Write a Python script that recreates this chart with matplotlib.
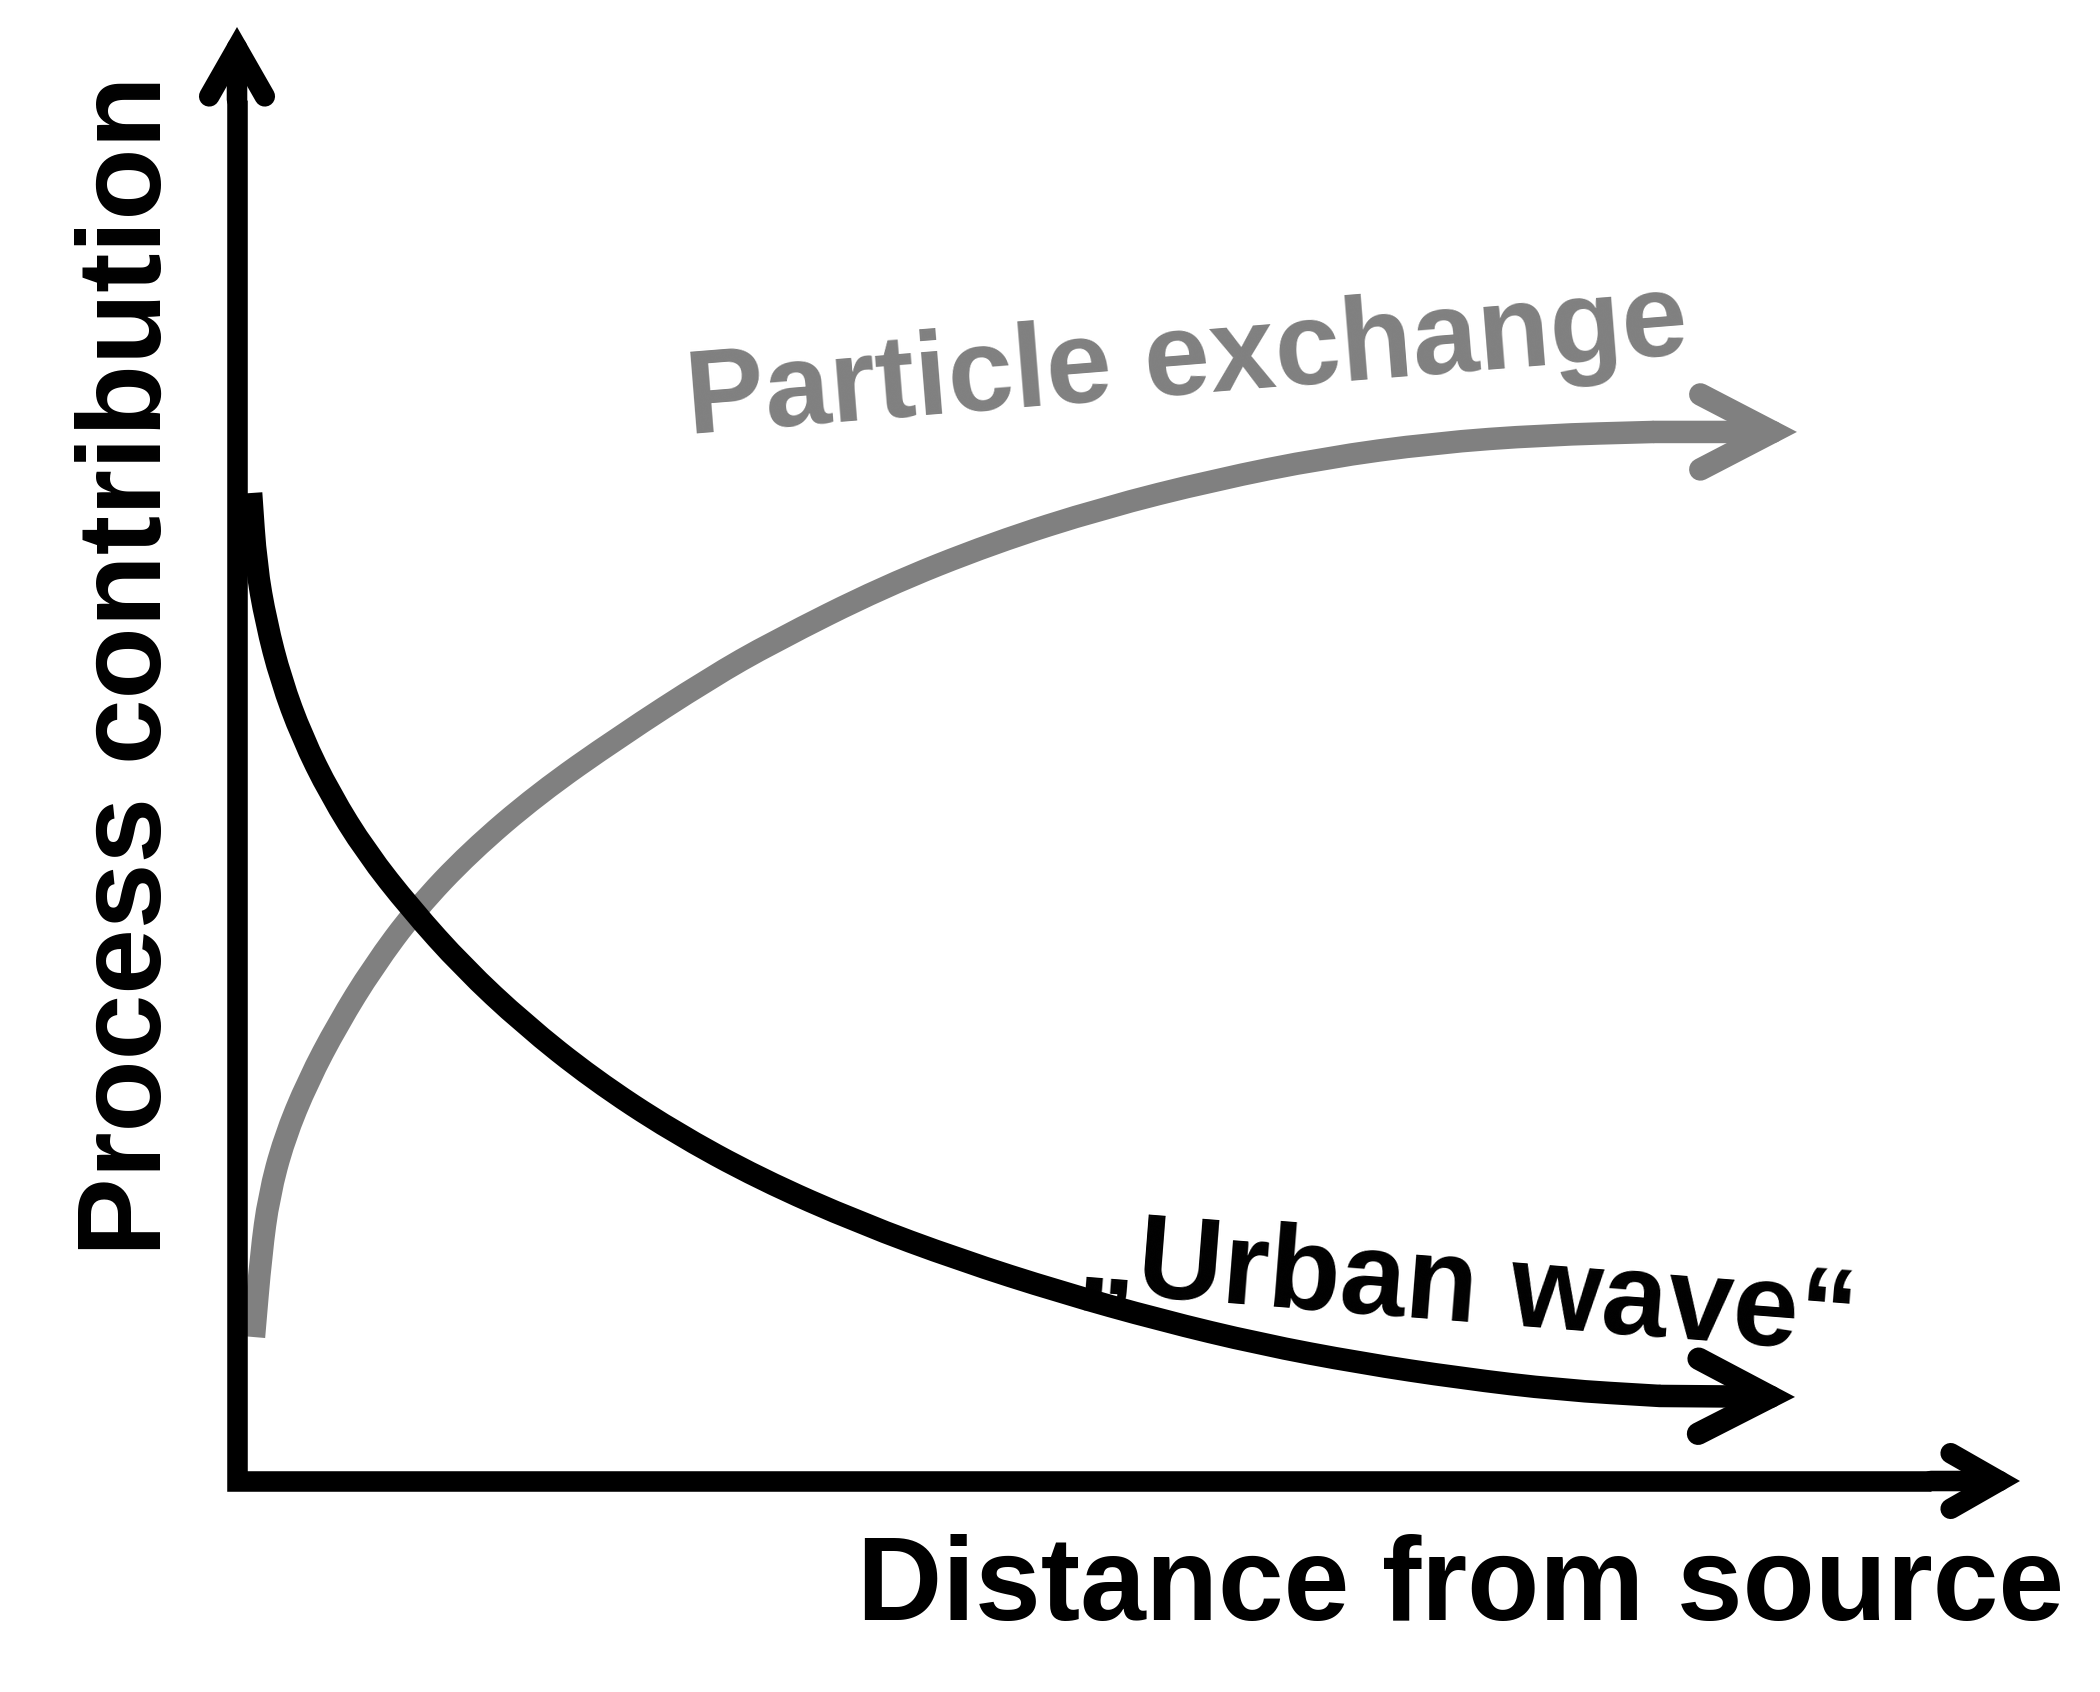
import matplotlib
matplotlib.use("Agg")
import matplotlib.pyplot as plt
from matplotlib.patches import ArrowStyle, PathPatch
from matplotlib.path import Path

plt.rcParams['font.family'] = ['Liberation Sans', 'DejaVu Sans']

# ---- data (conceptual curves; axes run 0..100) ----
distance_urban = [0.79, 1.07, 1.63, 2.47, 3.65, 5.22, 7.24, 9.76, 12.68, 16.10,
                  19.97, 24.40, 29.33, 34.94, 40.55, 46.16, 51.77, 57.37, 62.98,
                  68.59, 74.20, 79.81, 87.38]
urban_wave = [67.95, 63.00, 59.08, 55.09, 51.17, 47.25, 43.26, 39.34, 35.35, 31.43,
              27.65, 24.07, 20.77, 17.74, 15.20, 13.00, 11.07, 9.42, 8.12,
              7.08, 6.26, 5.85, 5.78]

distance_particle = [0.95, 1.35, 1.79, 2.64, 3.98, 5.66, 7.63, 10.04, 13.07, 16.88,
                     21.42, 26.53, 30.06, 36.23, 42.40, 48.57, 54.80, 60.97, 67.14,
                     73.31, 79.47, 87.49]
particle_exchange = [9.90, 15.61, 19.60, 23.52, 27.51, 31.43, 35.35, 39.34, 43.26, 47.25,
                     51.17, 55.23, 57.70, 61.49, 64.51, 66.92, 68.84, 70.36, 71.39,
                     71.94, 72.15, 72.15]

x_label = "Distance from source"
y_label = "Process contribution"
label_particle = "Particle exchange"
label_urban = "\u201eUrban wave\u201c"

BLACK = "#000000"
GRAY = "#808080"

fig = plt.figure(figsize=(21, 16.92), dpi=100)
fig.patch.set_facecolor("white")
ax = fig.add_axes([0.11286, 0.12470, 0.84905, 0.85934])
ax.set_xlim(0, 100)
ax.set_ylim(0, 100)
ax.axis("off")


def arrow_head(x0, y0, x1, y1, color, lw, hl, hw):
    ax.annotate("", xy=(x1, y1), xytext=(x0, y0), xycoords="data",
                annotation_clip=False,
                arrowprops=dict(arrowstyle=ArrowStyle("->", head_length=hl, head_width=hw),
                                mutation_scale=1, lw=lw, color=color,
                                shrinkA=0, shrinkB=0, capstyle="round",
                                joinstyle="miter"))


def smooth_curve(xs, ys, color, lw):
    """Stroke the read points as a smooth path (quadratic Beziers through midpoints)."""
    pts = list(zip(xs, ys))
    verts = [pts[0]]
    codes = [Path.MOVETO]
    mid = lambda a, b: ((a[0] + b[0]) / 2, (a[1] + b[1]) / 2)
    verts.append(mid(pts[0], pts[1]))
    codes.append(Path.LINETO)
    for i in range(1, len(pts) - 1):
        verts += [pts[i], mid(pts[i], pts[i + 1])]
        codes += [Path.CURVE3, Path.CURVE3]
    verts.append(pts[-1])
    codes.append(Path.LINETO)
    patch = PathPatch(Path(verts, codes), facecolor="none", edgecolor=color, lw=lw,
                      capstyle="butt", joinstyle="round", clip_on=False)
    ax.add_patch(patch)


# axes (L shape) with open arrow heads
axis_lw = 14.8
ax.plot([0, 0, 95], [95, 0, 0], color=BLACK, lw=axis_lw,
        solid_joinstyle="miter", solid_capstyle="butt", clip_on=False)
arrow_head(0, 95, 0, 100, BLACK, axis_lw, 35, 20)
arrow_head(95, 0, 100, 0, BLACK, axis_lw, 35, 20)

# curves
curve_lw = 16.2
smooth_curve(distance_particle[:-1], particle_exchange[:-1], GRAY, curve_lw)
arrow_head(distance_particle[-2], particle_exchange[-2],
           distance_particle[-1], particle_exchange[-1], GRAY, curve_lw, 52, 27)

smooth_curve(distance_urban[:-1], urban_wave[:-1], BLACK, curve_lw)
arrow_head(distance_urban[-2], urban_wave[-2],
           distance_urban[-1], urban_wave[-1], BLACK, curve_lw, 52, 27)

# labels
fs = 85
ax.text(53.4, 74.8, label_particle, color=GRAY, fontsize=fs, fontweight="bold",
        rotation=4.6, rotation_mode="anchor", ha="center", va="baseline")
ax.text(68.9, 11.0, label_urban, color=BLACK, fontsize=fs, fontweight="bold",
        rotation=-4.5, rotation_mode="anchor", ha="center", va="baseline")
ax.text(68.6, -9.56, x_label, color=BLACK, fontsize=fs, fontweight="bold",
        ha="center", va="baseline", clip_on=False)
ax.text(-4.26, 56.05, y_label, color=BLACK, fontsize=fs, fontweight="bold",
        rotation=90, rotation_mode="anchor", ha="center", va="baseline", clip_on=False)

fig.savefig("out.png", dpi=100, facecolor="white")
